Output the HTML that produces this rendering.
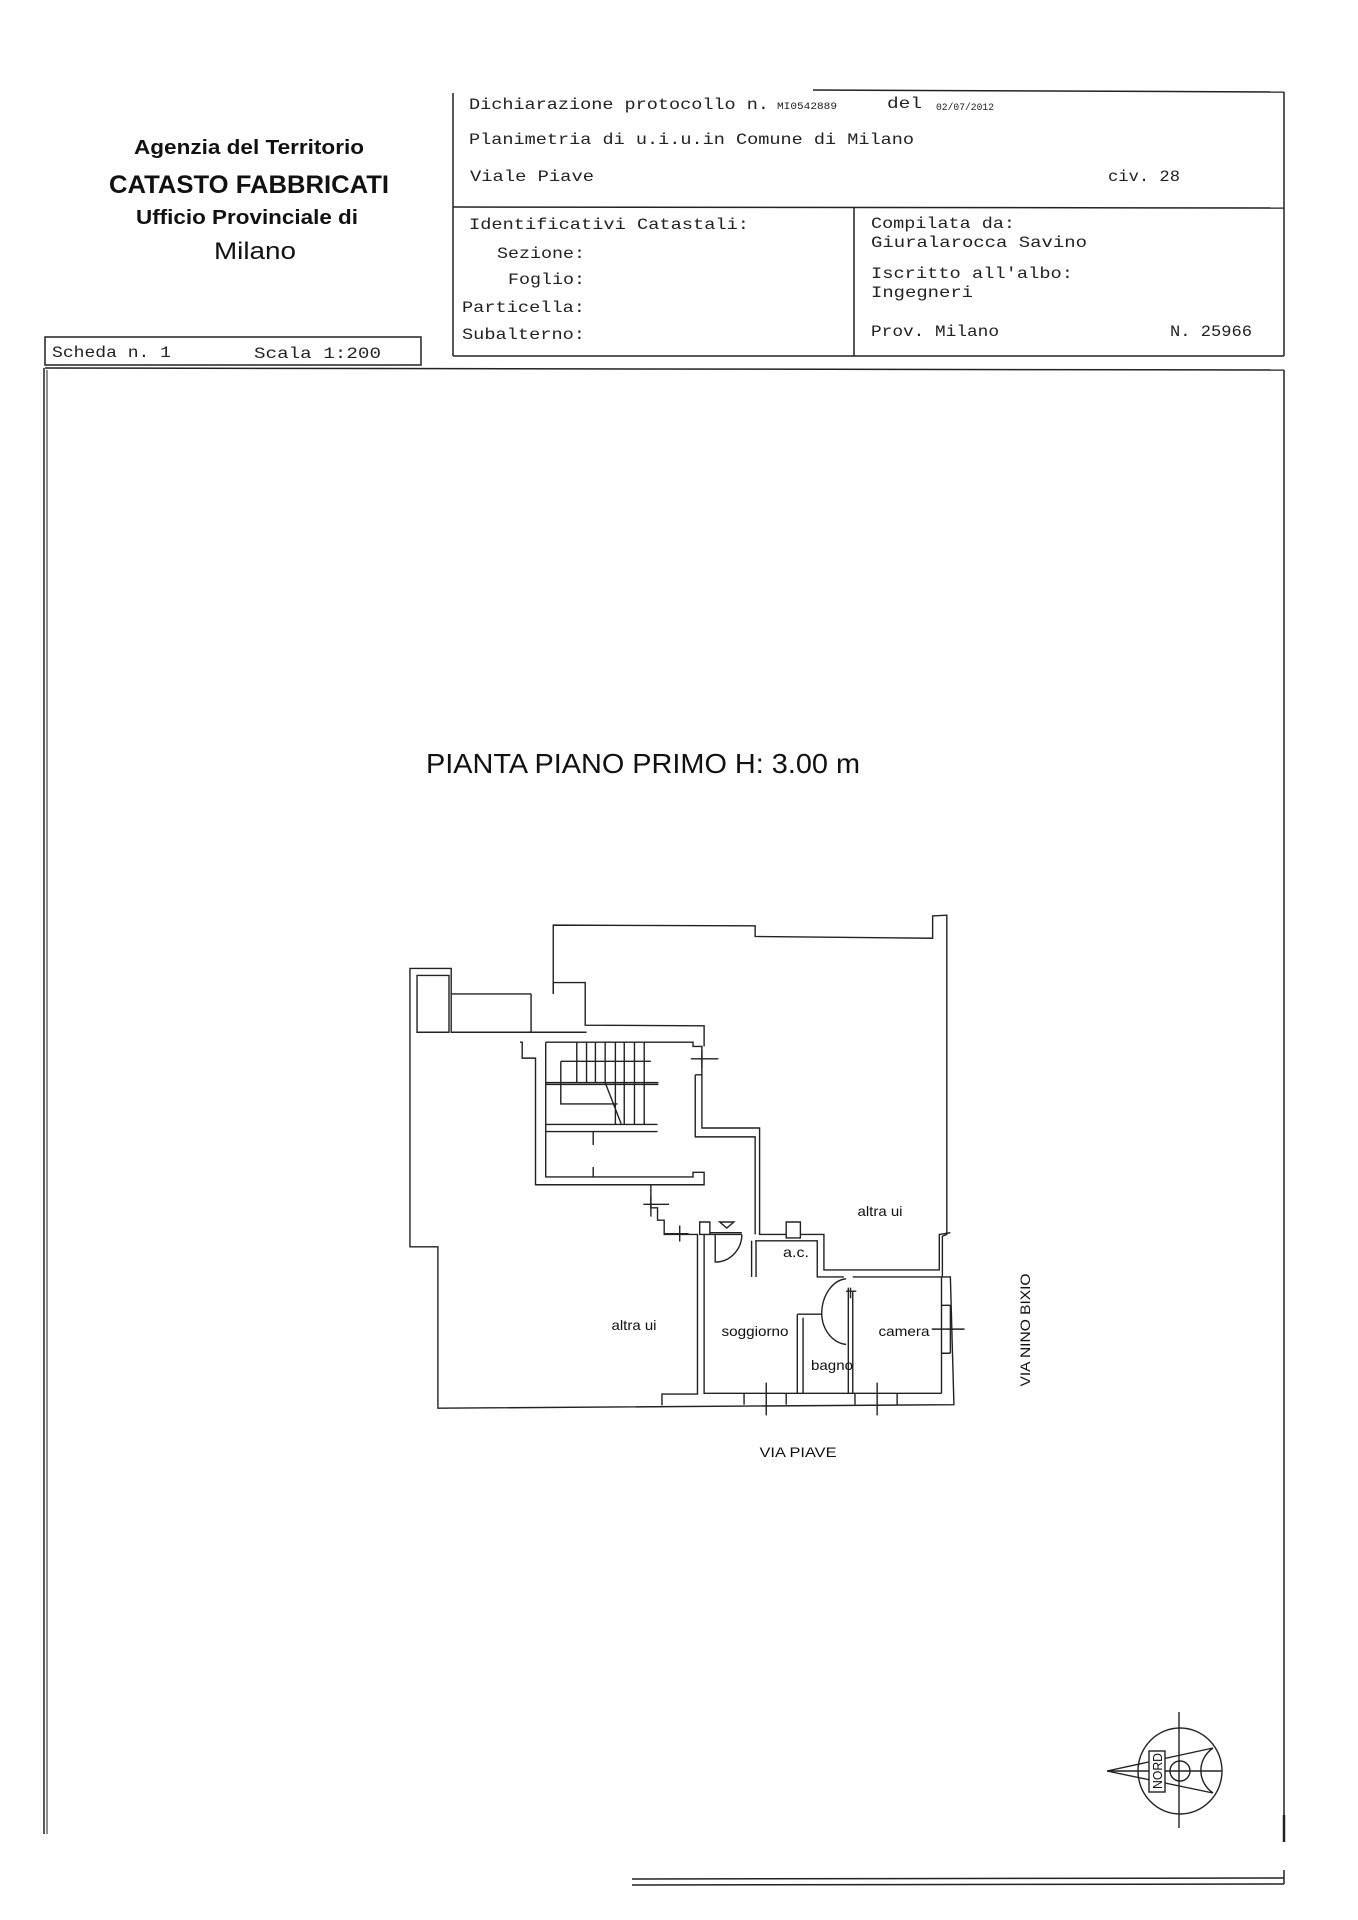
<!DOCTYPE html>
<html><head><meta charset="utf-8"><style>
html,body{margin:0;padding:0;background:#fff;}
svg{display:block;}
.m{font-family:"Liberation Mono",monospace;fill:#222;}
.s{font-family:"Liberation Sans",sans-serif;fill:#111;}
</style></head><body>
<svg width="1358" height="1920" viewBox="0 0 1358 1920" xmlns="http://www.w3.org/2000/svg">
<rect width="1358" height="1920" fill="#fff"/>
<text class="s" x="249" y="154" text-anchor="middle" font-size="20" font-weight="bold" textLength="230" lengthAdjust="spacingAndGlyphs">Agenzia del Territorio</text>
<text class="s" x="249" y="193" text-anchor="middle" font-size="25" font-weight="bold" textLength="280" lengthAdjust="spacingAndGlyphs">CATASTO FABBRICATI</text>
<text class="s" x="247" y="224" text-anchor="middle" font-size="20" font-weight="bold" textLength="222" lengthAdjust="spacingAndGlyphs">Ufficio Provinciale di</text>
<text class="s" x="255" y="259" text-anchor="middle" font-size="24" textLength="82" lengthAdjust="spacingAndGlyphs">Milano</text>
<g stroke="#222" fill="none" stroke-width="1.5">
<line x1="813" y1="90" x2="1284" y2="92"/>
<line x1="453" y1="93" x2="453" y2="356"/>
<line x1="1284" y1="92" x2="1284" y2="356"/>
<line x1="453" y1="207" x2="1284" y2="208"/>
<line x1="854" y1="208" x2="854" y2="356"/>
<line x1="453" y1="356" x2="1284" y2="356"/>
<rect x="45" y="337" width="376" height="28"/>
<line x1="45" y1="368" x2="1284" y2="370"/>
<line x1="44" y1="368" x2="44" y2="1834"/>
<line x1="47" y1="370" x2="47" y2="1834" stroke-width="1"/>
<line x1="1284" y1="370" x2="1284" y2="1840"/>
<line x1="1284" y1="1815" x2="1284" y2="1842" stroke-width="2.5"/>
<line x1="1284" y1="1870" x2="1284" y2="1884"/>
<line x1="632" y1="1879" x2="1284" y2="1878"/>
<line x1="632" y1="1885" x2="1284" y2="1884"/>
</g>
<g class="m" font-size="16">
<text x="469" y="109" textLength="300" lengthAdjust="spacingAndGlyphs">Dichiarazione protocollo n.</text>
<text x="777" y="109" font-size="10" textLength="60" lengthAdjust="spacingAndGlyphs">MI0542889</text>
<text x="887" y="108" textLength="35" lengthAdjust="spacingAndGlyphs">del</text>
<text x="936" y="110" font-size="10" textLength="58" lengthAdjust="spacingAndGlyphs">02/07/2012</text>
<text x="469" y="144" textLength="445" lengthAdjust="spacingAndGlyphs">Planimetria di u.i.u.in Comune di Milano</text>
<text x="470" y="181" textLength="124" lengthAdjust="spacingAndGlyphs">Viale Piave</text>
<text x="1108" y="181" textLength="72" lengthAdjust="spacingAndGlyphs">civ. 28</text>
<text x="469" y="229" textLength="280" lengthAdjust="spacingAndGlyphs">Identificativi Catastali:</text>
<text x="497" y="258" textLength="88" lengthAdjust="spacingAndGlyphs">Sezione:</text>
<text x="508" y="284" textLength="77" lengthAdjust="spacingAndGlyphs">Foglio:</text>
<text x="462" y="312" textLength="123" lengthAdjust="spacingAndGlyphs">Particella:</text>
<text x="462" y="339" textLength="123" lengthAdjust="spacingAndGlyphs">Subalterno:</text>
<text x="871" y="228" textLength="144" lengthAdjust="spacingAndGlyphs">Compilata da:</text>
<text x="871" y="247" textLength="216" lengthAdjust="spacingAndGlyphs">Giuralarocca Savino</text>
<text x="871" y="278" textLength="202" lengthAdjust="spacingAndGlyphs">Iscritto all'albo:</text>
<text x="871" y="297" textLength="102" lengthAdjust="spacingAndGlyphs">Ingegneri</text>
<text x="871" y="336" textLength="128" lengthAdjust="spacingAndGlyphs">Prov. Milano</text>
<text x="1170" y="336" textLength="82" lengthAdjust="spacingAndGlyphs">N. 25966</text>
<text x="52" y="357" textLength="119" lengthAdjust="spacingAndGlyphs">Scheda n. 1</text>
<text x="254" y="358" textLength="127" lengthAdjust="spacingAndGlyphs">Scala 1:200</text>
</g>
<text class="s" x="426" y="773" font-size="28" textLength="434" lengthAdjust="spacingAndGlyphs" fill="#333">PIANTA PIANO PRIMO H: 3.00 m</text>
<g transform="translate(378,901) scale(0.4437,0.3547)" stroke="#222" fill="none">
<path vector-effect="non-scaling-stroke" stroke-width="1.4" d="M395,262 L395,68 L850,70 L850,100 L1250,105 L1250,42 L1282,40 L1282,940 L1272,945 L1272,1060 L1290,1060 L1298,1420 L135,1430 L135,975 L72,975 L72,190 L165,190 L165,262 L345,262"/>
<path vector-effect="non-scaling-stroke" stroke-width="1.4" d="M88,370 L88,210 L160,210 L160,370 Z M165,262 L165,370 L470,370 M345,262 L345,370 M395,262 L395,230 L467,230 L467,350 L735,352 L735,410"/>
<path vector-effect="non-scaling-stroke" stroke-width="1.4" d="M320,398 L325,398 L325,443 L355,443 L355,800 L615,800 L615,865 L630,865 L630,900 L645,900 L645,940 L720,940 L720,1390 L640,1390 L640,1422"/>
<path vector-effect="non-scaling-stroke" stroke-width="1.4" d="M378,398 L378,778 L710,778 L710,765 L735,765 L735,800 L615,800"/>
<path vector-effect="non-scaling-stroke" stroke-width="1.4" d="M378,398 L710,398 L710,410 L730,410 L730,490 M715,490 L730,490 L730,640 L860,640 L860,940 L920,940 M715,490 L715,665 L735,665 L850,665 L850,940"/>
<path vector-effect="non-scaling-stroke" stroke-width="1.4" d="M448,398 V512 M470,398 V512 M490,398 V512 M512,398 V512 M535,398 V512 M555,398 V512 M578,398 V512 M600,398 V512 M512,512 L548,628 M535,512 V628 M555,512 V628 M578,512 V628 M600,512 V628 M412,452 H615 M378,512 H632 M378,517 H632 M412,452 V572 H540 M378,630 H630 M378,650 H630 M485,650 V688 M485,750 V778"/>
<path vector-effect="non-scaling-stroke" stroke-width="1.4" d="M725,905 H748 V940 H725 Z M748,935 H820 M748,940 H820 M760,940 V1018 A60,78 0 0 0 820,940 M770,905 H802 L786,922 Z"/>
<path vector-effect="non-scaling-stroke" stroke-width="1.4" d="M735,940 V1388 H1270 M920,905 H952 V950 H920 Z M952,940 H1005 V1040 H1265 V940 L1290,935 M850,958 H990 V1060 H1050 M1070,1060 H1270 V1388 M842,958 V1060 M852,958 V1060"/>
<path vector-effect="non-scaling-stroke" stroke-width="1.4" d="M1055,1065 A60,100 0 0 0 1000,1165 M1000,1165 A60,90 0 0 0 1055,1250 M945,1165 H1000 M945,1165 V1388 M958,1175 V1388 M1060,1090 V1388 M1070,1100 V1388"/>
<path vector-effect="non-scaling-stroke" stroke-width="1.4" d="M825,1388 V1420 M920,1388 V1420 M1075,1388 V1420 M1170,1388 V1420 M875,1358 V1450 M1125,1358 V1450 M705,445 H767 M730,420 V470 M598,855 H656 M615,830 V890 M680,915 V960 M645,938 H700 M1248,1207 H1322 M1290,1140 V1275 M1270,1140 H1290 M1270,1275 H1290 M1055,1100 H1078 M1065,1090 V1120"/>
</g>
<g class="s" font-size="14" fill="#222">
<text x="880" y="1216" text-anchor="middle" textLength="45" lengthAdjust="spacingAndGlyphs">altra ui</text>
<text x="634" y="1330" text-anchor="middle" textLength="45" lengthAdjust="spacingAndGlyphs">altra ui</text>
<text x="755" y="1336" text-anchor="middle" textLength="67" lengthAdjust="spacingAndGlyphs">soggiorno</text>
<text x="796" y="1257" text-anchor="middle" textLength="26" lengthAdjust="spacingAndGlyphs">a.c.</text>
<text x="832" y="1370" text-anchor="middle" textLength="42" lengthAdjust="spacingAndGlyphs">bagno</text>
<text x="904" y="1336" text-anchor="middle" textLength="51" lengthAdjust="spacingAndGlyphs">camera</text>
<text x="798" y="1457" text-anchor="middle" textLength="77" lengthAdjust="spacingAndGlyphs">VIA PIAVE</text>
<text transform="translate(1030,1330) rotate(-90)" text-anchor="middle" textLength="113" lengthAdjust="spacingAndGlyphs">VIA NINO BIXIO</text>
</g>
<g stroke="#222" fill="none" stroke-width="1.4">
<ellipse cx="1180" cy="1771" rx="42" ry="43"/>
<line x1="1179" y1="1712" x2="1179" y2="1828"/>
<line x1="1107" y1="1771" x2="1222" y2="1771"/>
<path d="M1107,1771 L1213,1748 M1107,1771 L1213,1793 M1213,1748 A30,28 0 0 0 1213,1793"/>
<circle cx="1180" cy="1771" r="10"/>
<rect x="1149" y="1751" width="16" height="41" fill="#fff"/>
</g>
<text class="s" transform="translate(1162,1771) rotate(-90)" font-size="13" text-anchor="middle" textLength="36" lengthAdjust="spacingAndGlyphs">NORD</text>
</svg>
</body></html>
